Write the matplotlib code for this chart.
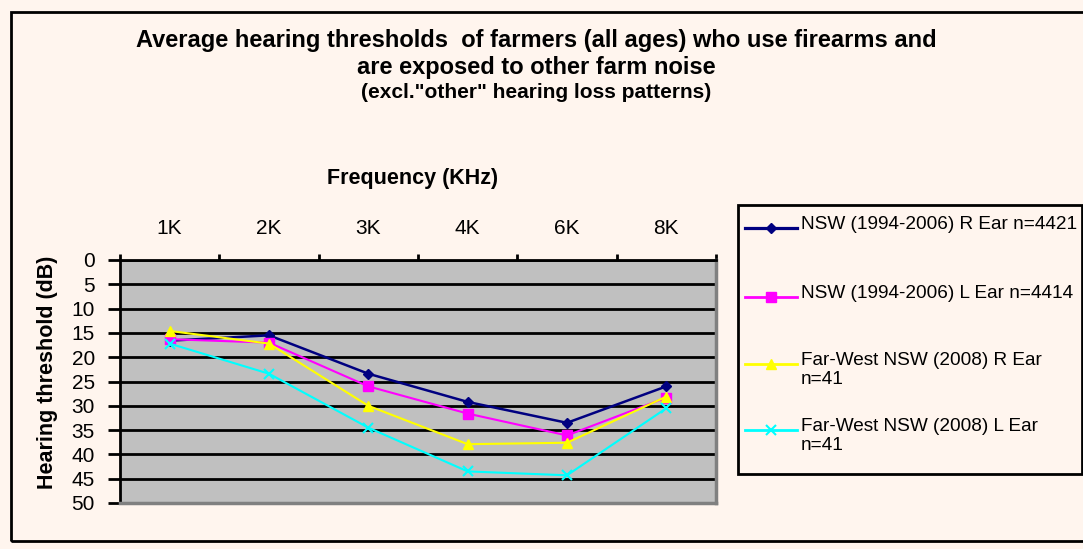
import matplotlib.pyplot as plt
from matplotlib.lines import Line2D
from matplotlib.patches import Rectangle
import numpy as np

plt.rcParams['font.family'] = ['Liberation Sans', 'DejaVu Sans']

# data
freqs = ['1K', '2K', '3K', '4K', '6K', '8K']
nsw_r = [16.6, 15.5, 23.4, 29.2, 33.5, 26.0]
nsw_l = [16.3, 17.0, 26.0, 31.6, 36.1, 28.3]
fw_r = [14.6, 17.2, 30.0, 37.9, 37.6, 28.1]
fw_l = [17.2, 23.4, 34.5, 43.5, 44.3, 30.5]

labels = ['NSW (1994-2006) R Ear n=4421',
          'NSW (1994-2006) L Ear n=4414',
          'Far-West NSW (2008) R Ear\nn=41',
          'Far-West NSW (2008) L Ear\nn=41']
colors = ['#000080', '#FF00FF', '#FFFF00', '#00FFFF']
markers = ['D', 's', '^', 'x']
msizes = [5.5, 7.5, 7.5, 7.5]
lwidths = [1.8, 1.5, 1.5, 1.5]

bg = '#FFF5EE'
W, H = 1083, 549
fig = plt.figure(figsize=(W / 100, H / 100), dpi=100, facecolor=bg)

# outer chart border
fig.add_artist(Rectangle((11 / W, 1 - 541 / H), 1.1, (541 - 12) / H,
                         transform=fig.transFigure, fill=False,
                         edgecolor='black', linewidth=2))

ax = fig.add_axes([120 / W, 1 - 503 / H, (716 - 120) / W, (503 - 260) / H])
ax.set_facecolor('#C0C0C0')

x = np.arange(len(freqs))
series = [nsw_r, nsw_l, fw_r, fw_l]
for vals, c, m, ms, lw in zip(series, colors, markers, msizes, lwidths):
    ax.plot(x, vals, color=c, marker=m, markersize=ms, linewidth=lw,
            markeredgewidth=1.5 if m == 'x' else 1, markeredgecolor=c,
            clip_on=False, zorder=3)

ax.set_xlim(-0.5, len(freqs) - 0.5)
ax.set_ylim(50, 0)
ax.set_yticks(np.arange(0, 51, 5))
ax.yaxis.grid(True, color='black', linewidth=2)
ax.set_axisbelow(True)
ax.tick_params(axis='y', direction='out', length=9, width=2, pad=9,
               labelsize=15)

ax.xaxis.tick_top()
ax.set_xticks(np.arange(-0.5, len(freqs)), labels=[''] * (len(freqs) + 1))
ax.set_xticks(x, labels=freqs, minor=True)
ax.tick_params(axis='x', which='major', direction='out', length=4, width=2)
ax.tick_params(axis='x', which='minor', length=0, pad=16, labelsize=15)

ax.spines['left'].set_linewidth(2)
ax.spines['top'].set_linewidth(2)
for s in ['right', 'bottom']:
    ax.spines[s].set_color('#808080')
    ax.spines[s].set_linewidth(2.5)

fig.text(536 / W, 1 - 40 / H,
         'Average hearing thresholds  of farmers (all ages) who use firearms and',
         ha='center', va='center', fontsize=17, fontweight='bold')
fig.text(536 / W, 1 - 67 / H, 'are exposed to other farm noise',
         ha='center', va='center', fontsize=17, fontweight='bold')
fig.text(536 / W, 1 - 93 / H, '(excl."other" hearing loss patterns)',
         ha='center', va='center', fontsize=15, fontweight='bold')
fig.text(413 / W, 1 - 178 / H, 'Frequency (KHz)', ha='center', va='center',
         fontsize=15.5, fontweight='bold')
fig.text(48 / W, 1 - 372 / H, 'Hearing threshold (dB)', ha='center',
         va='center', rotation=90, fontsize=15.5, fontweight='bold')

# legend box drawn by hand to match the spacing of the original
fig.add_artist(Rectangle((738 / W, 1 - 474 / H), (1082 - 738) / W,
                         (474 - 205) / H, transform=fig.transFigure,
                         fill=False, edgecolor='black', linewidth=2))
tops = [218, 287, 354, 420]
for lab, c, m, ms, lw, t in zip(labels, colors, markers, msizes, lwidths, tops):
    yc = 1 - (t + 10) / H
    fig.add_artist(Line2D([745 / W, 797 / W], [yc, yc], color=c,
                          linewidth=lw + 0.5, transform=fig.transFigure))
    fig.add_artist(Line2D([771 / W], [yc], color=c, marker=m, markersize=ms,
                          markeredgecolor=c,
                          markeredgewidth=1.5 if m == 'x' else 1,
                          transform=fig.transFigure))
    fig.text(801 / W, 1 - (t - 2) / H, lab, ha='left', va='top',
             fontsize=13.7, linespacing=1.15)

fig.savefig('out.png', dpi=100, facecolor=bg)
